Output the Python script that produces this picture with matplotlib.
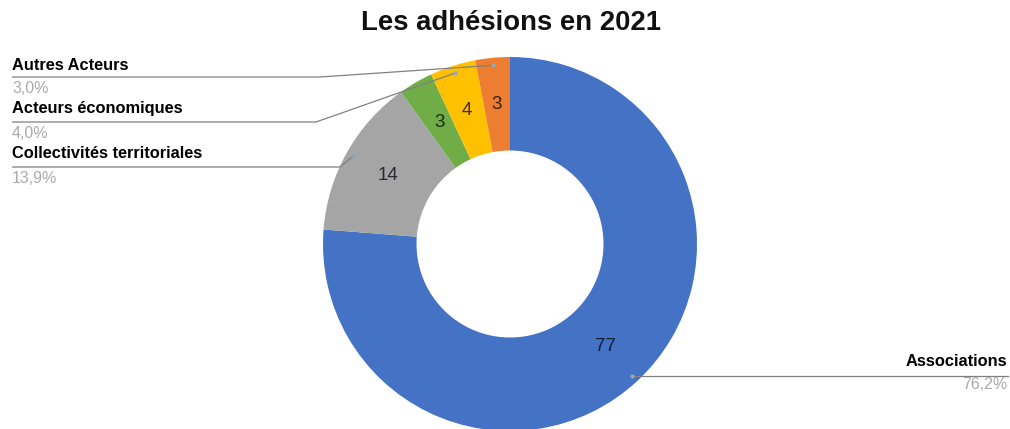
import numpy as np
import matplotlib
matplotlib.use("Agg")
import matplotlib.pyplot as plt
from matplotlib.colors import to_rgb

plt.rcParams['font.family'] = ['Liberation Sans', 'DejaVu Sans']

title = "Les adhésions en 2021"
categories = ["Associations", "Collectivités territoriales", "Autres",
              "Acteurs économiques", "Autres Acteurs"]
values = [77, 14, 3, 4, 3]
colors = ["#4472C4", "#A5A5A5", "#70AD47", "#FFC000", "#ED7D31"]
show_callout = [True, True, False, True, True]

W, H = 1010, 429
fig = plt.figure(figsize=(W / 100, H / 100), dpi=100)
ax = fig.add_axes([0, 0, 1, 1])

def Y(y):
    return H - y

cx, cy, R = 510, Y(244), 187
wedges, texts = ax.pie(values, colors=colors, startangle=90, counterclock=False,
                       radius=R, center=(cx, cy),
                       wedgeprops=dict(width=R * 0.5, edgecolor='none', linewidth=0),
                       labels=[str(v) for v in values], labeldistance=0.75,
                       textprops=dict(fontsize=13.5))
for t, c in zip(texts, colors):
    r, g, b = to_rgb(c)
    t.set_color((r * 0.25, g * 0.25, b * 0.3))
    t.set_ha('center'); t.set_va('center')

ax.set_xlim(0, W)
ax.set_ylim(0, H)
ax.set_aspect('equal')
ax.axis('off')

fig.text(511 / W, Y(23) / H, title, ha='center', va='center',
         fontsize=19.8, fontweight='bold', color='#111111')

total = sum(values)
cum = np.cumsum([0] + values)
layout = {
    "Autres Acteurs": (65, 77, 'left', 320),
    "Acteurs économiques": (109, 122, 'left', 316),
    "Collectivités territoriales": (154, 167, 'left', 340),
    "Associations": (362, 373, 'right', None),
}
line_color = '#808080'
for i, name in enumerate(categories):
    if not show_callout[i]:
        continue
    frac_mid = (cum[i] + values[i] / 2) / total
    ang = np.deg2rad(90 - 360 * frac_mid)
    ax_x = cx + 0.96 * R * np.cos(ang)
    ax_y = cy + 0.96 * R * np.sin(ang)
    ty, ly, side, knee = layout[name]
    pct = f"{100 * values[i] / total:.1f}%".replace('.', ',')
    if side == 'left':
        ax.plot([12, knee, ax_x], [Y(ly), Y(ly), ax_y], color=line_color, lw=0.9,
                solid_capstyle='butt')
        ax.text(12, Y(ty), name, ha='left', va='center', fontsize=11.8,
                fontweight='bold', color='#000000')
        ax.text(12, Y(ly + 11.5), pct, ha='left', va='center', fontsize=11.5,
                color='#aaaaaa')
    else:
        ax.plot([ax_x, 1008], [ax_y, ax_y], color=line_color, lw=0.9)
        ax.text(1007, Y(ty), name, ha='right', va='center', fontsize=11.8,
                fontweight='bold', color='#000000')
        ax.text(1007, Y(ly + 11.5), pct, ha='right', va='center', fontsize=11.5,
                color='#aaaaaa')
    ax.plot([ax_x], [ax_y], 'o', ms=3, color='#9aa5b5', mec='none')

fig.savefig("out.png", dpi=100, facecolor='white')
